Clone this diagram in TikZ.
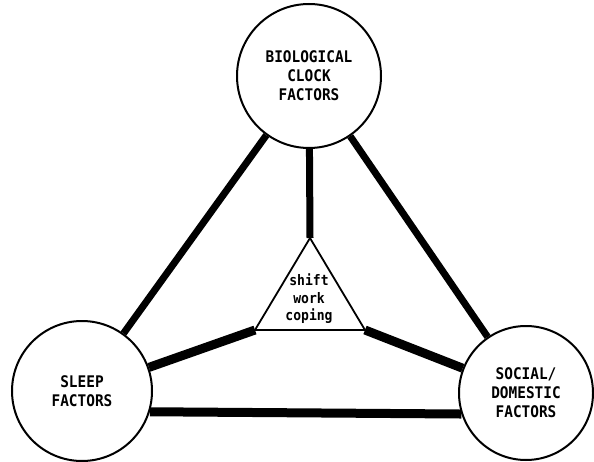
\documentclass[tikz,border=0pt]{standalone}
\usepackage{fontspec}
\newfontfamily\lettering[FakeStretch=0.9]{DejaVu Sans Mono}
\usetikzlibrary{backgrounds}
\begin{document}
\begin{tikzpicture}[x=1pt,y=1pt,
  factor/.style={circle, draw, line width=2pt, fill=white, inner sep=0pt,
    align=center, font=\lettering\bfseries\fontsize{16}{19}\selectfont},
  corelabel/.style={align=center, inner sep=0pt,
    font=\lettering\bfseries\fontsize{14.5}{17.5}\selectfont},
  link/.style={line width=7pt},
  heavylink/.style={line width=9pt},
]
\useasboundingbox (0,0) rectangle (594,461);

% the three factor circles
\node[factor, minimum size=144pt] (bio) at (309,385) {BIOLOGICAL\\CLOCK\\FACTORS};
\node[factor, minimum size=140pt] (sleep) at (82,70) {SLEEP\\FACTORS};
\node[factor, minimum size=134pt] (social) at (526,68) {SOCIAL/\\DOMESTIC\\FACTORS};

% central triangle
\coordinate (tA) at (310,223);
\coordinate (tL) at (255,131);
\coordinate (tR) at (365,131);
\draw[line width=1.8pt, fill=white, line join=miter] (tA) -- (tL) -- (tR) -- cycle;
\node[corelabel] (core) at (309,162) {shift\\work\\coping};

% links between the factors and to the centre
\begin{scope}[on background layer]
  \draw[link] (bio) -- (sleep);
  \draw[link] (bio) -- (social);
  \draw[link] (bio) -- (tA);
  \draw[heavylink] (sleep) -- (tL);
  \draw[heavylink] (social) -- (tR);
  \draw[heavylink] (sleep.-17) -- (social.-162);
\end{scope}
\end{tikzpicture}
\end{document}
